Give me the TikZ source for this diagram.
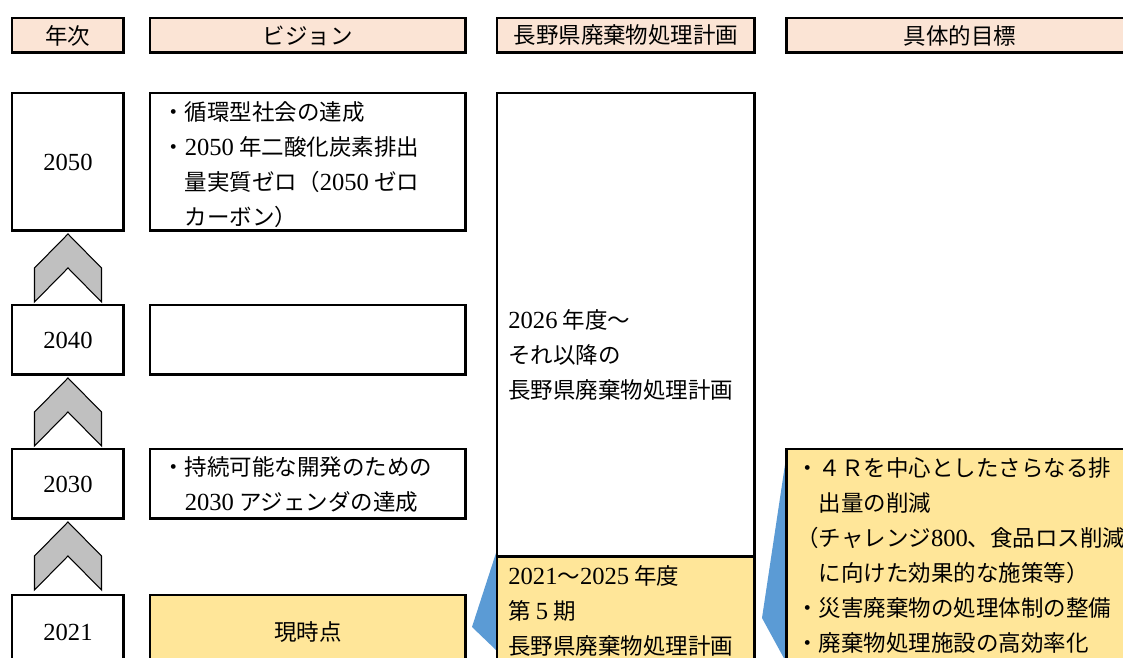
\documentclass[tikz,border=0pt]{standalone}
\usepackage{fontspec}
\usepackage{tikz}
\usetikzlibrary{calc}
\newfontfamily\jp{Noto Sans CJK JP}
\newfontfamily\numfont{Liberation Serif}
\newcommand{\bodyfont}{\jp\fontsize{12.8}{19.9}\selectfont}
\newcommand{\yr}[1]{{\numfont\fontsize{14}{19.9}\selectfont #1}}
\definecolor{hdrpink}{HTML}{FBE4D5}
\definecolor{nowyellow}{HTML}{FFE699}
\definecolor{calloutblue}{HTML}{5B9BD5}
\definecolor{chevgray}{HTML}{C0C0C0}

\begin{document}
\begin{tikzpicture}[x=0.02cm,y=-0.02cm,
  box/.style={draw,line width=1.7pt,anchor=north west,inner sep=0pt,outer sep=0pt},
  hdr/.style={box,fill=hdrpink,minimum height=0.7cm,font=\bodyfont},
  year/.style={box,minimum width=2.24cm,font=\numfont\fontsize{14}{19.9}\selectfont},
  vis/.style={box,minimum width=6.32cm},
  txt/.style={font=\bodyfont,inner sep=0pt,align=left,anchor=base west},
  chev/.style={draw,fill=chevgray,line width=0.6pt,line join=miter},
  callout/.style={fill=calloutblue}]
\useasboundingbox (0,0) rectangle (1123,658);
\clip (0,0) rectangle (1123,658);
% blue pointers behind the boxes
\fill[callout] (496,553) -- (472,627) -- (496,650) -- cycle;
\fill[callout] (786,458) -- (762,618) -- (786,662) -- cycle;
% header row
\node[hdr,minimum width=2.24cm] (hyear) at (12,18) {年次};
\node[hdr,minimum width=6.32cm] (hvision) at (150,18) {ビジョン};
\node[hdr,minimum width=5.16cm] (hplan) at (497,18) {長野県廃棄物処理計画};
\node[hdr,minimum width=6.96cm] (htarget) at (786,18) {具体的目標};
% years
\node[year,minimum height=2.76cm] (y2050) at (12,93) {2050};
\node[year,minimum height=1.4cm] (y2040) at (12,305) {2040};
\node[year,minimum height=1.4cm] (y2030) at (12,449) {2030};
\node[year,minimum height=1.48cm] (y2021) at (12,595) {2021};
% vision
\node[vis,minimum height=2.76cm] (v2050) at (150,93) {};
\node[vis,minimum height=1.4cm] (v2040) at (150,305) {};
\node[vis,minimum height=1.4cm] (v2030) at (150,449) {};
\node[vis,minimum height=1.48cm,fill=nowyellow,font=\bodyfont] (v2021) at (150,595) {現時点};
% plans
\node[box,minimum width=5.16cm,minimum height=9.28cm] (plannext) at (497,93) {};
\node[box,minimum width=5.16cm,minimum height=2.46cm,fill=nowyellow] (plan5) at (497,557) {};
% targets
\node[box,minimum width=6.96cm,minimum height=4.62cm,fill=nowyellow] (target) at (786,449) {};
% chevrons between the years
\foreach \hi in {y2050,y2040,y2030}
  \draw[chev] ($(\hi.south)+(0,3)$) -- ++(33.5,34) -- ++(0,34) -- ++(-33.5,-34)
    -- ++(-33.5,34) -- ++(0,-34) -- cycle;
% texts (base = last line)
\node[txt] (tv2050) at (162,225.5) {・循環型社会の達成\\・\yr{2050} 年二酸化炭素排出\\　量実質ゼロ（\yr{2050} ゼロ\\　カーボン）};
\node[txt] (tv2030) at (162,510.5) {・持続可能な開発のための\\　\yr{2030} アジェンダの達成};
\node[txt] (tnext) at (508,398.5) {\yr{2026} 年度～\\それ以降の\\長野県廃棄物処理計画};
\node[txt] (tplan5) at (508,654.5) {\yr{2021}～\yr{2025} 年度\\第 \yr{5} 期\\長野県廃棄物処理計画};
\node[txt] (ttarget) at (796,651.5) {・４Ｒを中心としたさらなる排\\　出量の削減\\（チャレンジ\yr{800}、食品ロス削減\\　に向けた効果的な施策等）\\・災害廃棄物の処理体制の整備\\・廃棄物処理施設の高効率化};
\end{tikzpicture}
\end{document}
